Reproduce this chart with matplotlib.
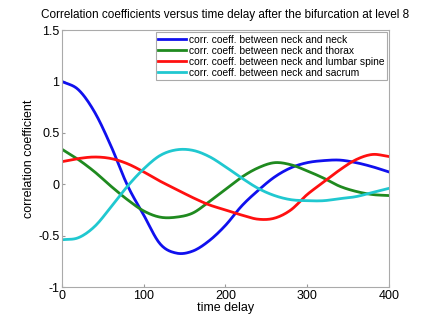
import numpy as np
import matplotlib
matplotlib.use("Agg")
import matplotlib.pyplot as plt

# values at these time delays
t = [0, 20, 40, 60, 80, 100, 120, 140, 160, 180, 200,
     220, 240, 260, 280, 300, 320, 340, 360, 380, 400]

neck_neck = [1.0, 0.92, 0.70, 0.37, -0.01, -0.30, -0.58, -0.67, -0.65, -0.55, -0.40,
             -0.21, -0.06, 0.07, 0.16, 0.21, 0.23, 0.235, 0.21, 0.17, 0.12]
neck_thorax = [0.34, 0.24, 0.12, -0.02, -0.15, -0.26, -0.32, -0.32, -0.28, -0.17, -0.05,
               0.07, 0.16, 0.21, 0.19, 0.13, 0.06, -0.02, -0.07, -0.10, -0.11]
neck_lumbar = [0.22, 0.25, 0.265, 0.25, 0.20, 0.12, 0.03, -0.05, -0.13, -0.20, -0.25,
               -0.30, -0.34, -0.33, -0.25, -0.10, 0.02, 0.14, 0.24, 0.29, 0.27]
neck_sacrum = [-0.54, -0.52, -0.41, -0.22, -0.02, 0.15, 0.28, 0.335, 0.33, 0.27, 0.17,
               0.06, -0.04, -0.11, -0.15, -0.16, -0.16, -0.14, -0.12, -0.08, -0.04]

labels = ['corr. coeff. between neck and neck',
          'corr. coeff. between neck and thorax',
          'corr. coeff. between neck and lumbar spine',
          'corr. coeff. between neck and sacrum']
colors = ['#1010ee', '#1f8a1f', '#ff1010', '#20c8d0']


def smooth(x, y, n=300):
    """Catmull-Rom style cubic through the read points"""
    x = np.asarray(x, float)
    y = np.asarray(y, float)
    xs = np.linspace(x[0], x[-1], n)
    m = np.gradient(y, x)
    idx = np.clip(np.searchsorted(x, xs) - 1, 0, len(x) - 2)
    h = x[idx + 1] - x[idx]
    s = (xs - x[idx]) / h
    h00 = 2 * s**3 - 3 * s**2 + 1
    h10 = s**3 - 2 * s**2 + s
    h01 = -2 * s**3 + 3 * s**2
    h11 = s**3 - s**2
    ys = h00 * y[idx] + h10 * h * m[idx] + h01 * y[idx + 1] + h11 * h * m[idx + 1]
    return xs, ys


plt.rcParams['font.family'] = ['Liberation Sans', 'DejaVu Sans']

fig = plt.figure(figsize=(4.25, 3.2), dpi=100)
ax = fig.add_axes([0.146, 0.103, 0.769, 0.803])

for y, lab, c in zip([neck_neck, neck_thorax, neck_lumbar, neck_sacrum], labels, colors):
    xs, ys = smooth(t, y)
    ax.plot(xs, ys, color=c, lw=2, label=lab)

ax.set_xlim(0, 400)
ax.set_ylim(-1, 1.5)
ax.set_xticks([0, 100, 200, 300, 400])
ax.set_yticks([-1, -0.5, 0, 0.5, 1, 1.5])
ax.set_yticklabels(['-1', '-0.5', '0', '0.5', '1', '1.5'])
ax.tick_params(direction='in', length=2, labelsize=9, colors='#999999', labelcolor='black', pad=2)
for sp in ax.spines.values():
    sp.set_color('#aaaaaa')
    sp.set_linewidth(0.8)

ax.set_title('Correlation coefficients versus time delay after the bifurcation at level 8',
             fontsize=8.5, pad=9)
ax.set_xlabel('time delay', fontsize=9, labelpad=0)
ax.set_ylabel('correlation coefficient', fontsize=9, labelpad=2)

leg = ax.legend(loc='upper right', fontsize=7.4, handlelength=2.7, handletextpad=0.25,
                labelspacing=0.1, borderpad=0.25, borderaxespad=0.2,
                fancybox=False, framealpha=1)
leg.get_frame().set_edgecolor('#aaaaaa')
leg.get_frame().set_linewidth(0.8)

fig.savefig('out.png', dpi=100)
